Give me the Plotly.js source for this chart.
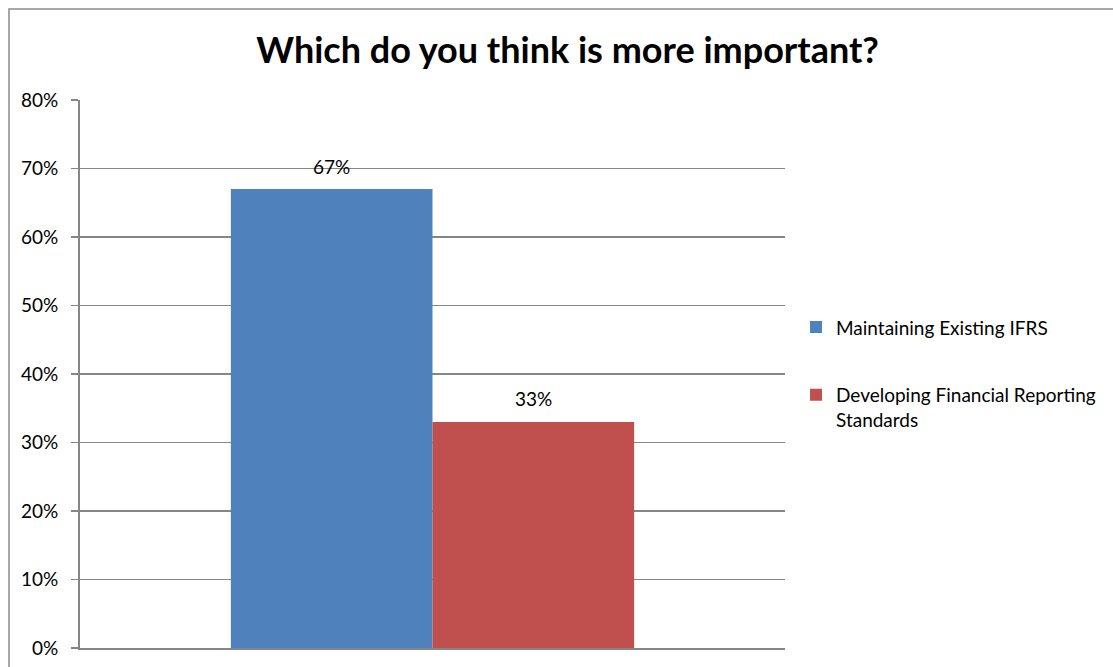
<!DOCTYPE html>
<html>
<head>
<meta charset="utf-8">
<script src="https://cdn.plot.ly/plotly-3.0.1.min.js"></script>
<style>
html,body{margin:0;padding:0;background:#fff;}
#chart{width:1113px;height:667px;}
</style>
</head>
<body>
<div id="chart"></div>
<script>
const category = ['Survey'];
const seriesNames = ['Maintaining Existing IFRS', 'Developing Financial Reporting<br>Standards'];
const seriesValues = [0.67, 0.33];
const seriesLabels = ['67%', '33%'];
const seriesColors = ['#4F81BD', '#C0504D'];
const yTickVals = [0, 0.1, 0.2, 0.3, 0.4, 0.5, 0.6, 0.7, 0.8];
const yTickText = ['0%', '10%', '20%', '30%', '40%', '50%', '60%', '70%', '80%'];

const W = 1113, H = 667;
const margin = {l: 80, r: 328, t: 100, b: 19};
const plotW = W - margin.l - margin.r;
const plotH = H - margin.t - margin.b;
const bargap = 0.428;
const barPx = plotW * (1 - bargap) / 2;

const traces = seriesNames.map((n, i) => ({
  type: 'bar',
  name: n,
  legendgroup: 'g' + i,
  x: category,
  y: [seriesValues[i]],
  marker: {color: seriesColors[i], line: {width: 0}},
  hoverinfo: 'skip'
}));

const annotations = seriesValues.map((v, i) => ({
  x: category[0], y: v, xref: 'x', yref: 'y',
  text: seriesLabels[i], showarrow: false,
  xshift: (i - 0.5) * barPx, yshift: 23,
  font: {family: 'Lato, sans-serif', size: 19, color: '#000'}
}));

const layout = {
  width: W, height: H,
  margin: margin,
  paper_bgcolor: '#fff', plot_bgcolor: '#fff',
  title: {text: '<b>Which do you think is more important?</b>', x: 0.51, xanchor: 'center', y: 0.925, yanchor: 'middle',
          font: {family: 'Lato, sans-serif', size: 36, color: '#000'}},
  barmode: 'group', bargap: bargap, bargroupgap: 0,
  showlegend: true,
  legend: {x: 1.0156, xanchor: 'left', y: 0.62, yanchor: 'top', valign: 'top',
           traceorder: 'grouped', tracegroupgap: 40, itemwidth: 30,
           font: {family: 'Lato, sans-serif', size: 19, color: '#000'}, bgcolor: 'rgba(0,0,0,0)'},
  xaxis: {type: 'category', range: [-0.5, 0.5], showticklabels: false, ticks: '', showgrid: false,
          showline: true, linecolor: '#868686', linewidth: 2, zeroline: false, fixedrange: true},
  yaxis: {range: [0, 0.8], tickvals: yTickVals, ticktext: yTickText, ticks: 'outside', ticklen: 7,
          tickcolor: '#868686', tickwidth: 1.5, showgrid: true, gridcolor: '#868686', gridwidth: 1.2,
          showline: true, linecolor: '#868686', linewidth: 2, zeroline: false, ticklabelstandoff: 9,
          tickfont: {family: 'Lato, sans-serif', size: 19, color: '#000'}, fixedrange: true},
  annotations: annotations,
  shapes: [{type: 'rect', xref: 'paper', yref: 'paper',
            x0: (9 - margin.l) / plotW, x1: (W + 20 - margin.l) / plotW,
            y0: -0.2,
            y1: (H - 9 - margin.b) / plotH,
            line: {color: '#8c8c8c', width: 1.5}, fillcolor: 'rgba(0,0,0,0)', layer: 'below'}]
};

Plotly.newPlot('chart', traces, layout, {displayModeBar: false, staticPlot: true});
</script>
</body>
</html>
